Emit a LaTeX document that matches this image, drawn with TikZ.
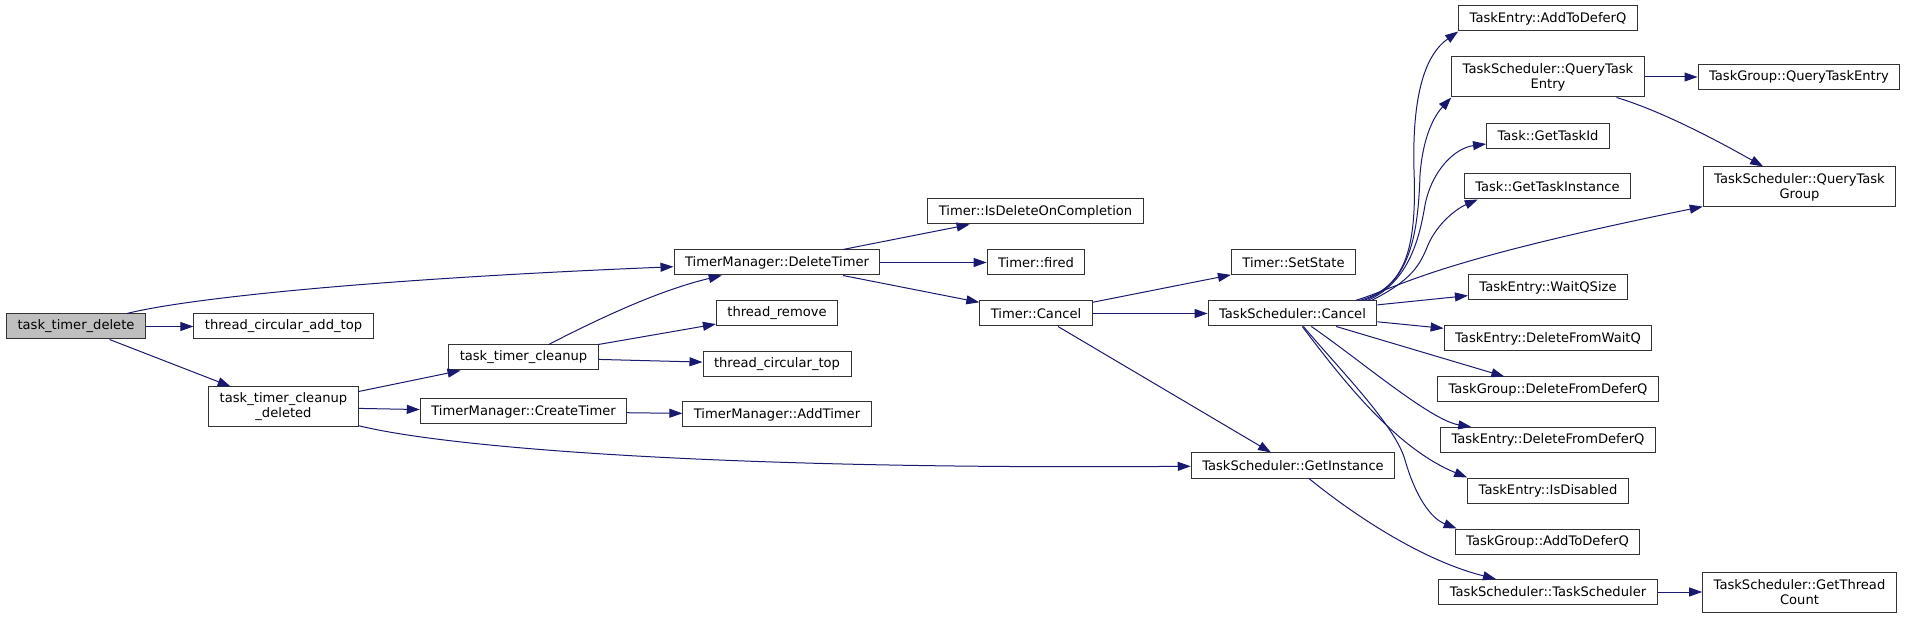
\documentclass[tikz,border=0pt]{standalone}
\usepackage{fontspec}
\setmainfont{DejaVu Sans}
\usetikzlibrary{arrows.meta}
\definecolor{edgeblue}{HTML}{191970}
\definecolor{boxline}{HTML}{333333}
\definecolor{rootfill}{HTML}{BFBFBF}

\begin{document}
\begin{tikzpicture}[x=1pt,y=-1pt,
    fn/.style={draw=boxline, line width=1pt, fill=white, inner xsep=11pt, inner ysep=0pt,
      minimum height=25pt, align=center, font=\fontsize{13.1}{15}\selectfont},
    root/.style={fn, fill=rootfill},
    two/.style={minimum height=40pt},
    call/.style={draw=edgeblue, line width=1pt, -{Triangle[length=13pt,width=9pt]}}]
    \useasboundingbox (0,0) rectangle (1915,617);

    % functions
    \node[root] (ttd) at (76,326.5) {task\_timer\_delete};
    \node[fn] (cat) at (283.5,326.5) {thread\_circular\_add\_top};
    \node[fn,two] (ttcd) at (283.5,407) {task\_timer\_cleanup\\\_deleted};
    \node[fn] (ttc) at (523.5,357.5) {task\_timer\_cleanup};
    \node[fn] (ctimer) at (523.5,411.5) {TimerManager::CreateTimer};
    \node[fn] (dtimer) at (777,262.5) {TimerManager::DeleteTimer};
    \node[fn] (tremove) at (777,313.5) {thread\_remove};
    \node[fn] (ctop) at (777,364) {thread\_circular\_top};
    \node[fn] (addtimer) at (777,414.5) {TimerManager::AddTimer};
    \node[fn] (idoc) at (1035.5,211.5) {Timer::IsDeleteOnCompletion};
    \node[fn] (fired) at (1036,262.5) {Timer::fired};
    \node[fn] (tcancel) at (1036,313.5) {Timer::Cancel};
    \node[fn] (setstate) at (1293.5,262.5) {Timer::SetState};
    \node[fn] (tscancel) at (1292.5,313.5) {TaskScheduler::Cancel};
    \node[fn] (getinst) at (1293,465.5) {TaskScheduler::GetInstance};
    \node[fn] (teaddq) at (1548,18.5) {TaskEntry::AddToDeferQ};
    \node[fn,two] (qte) at (1548,77) {TaskScheduler::QueryTask\\Entry};
    \node[fn] (tgqte) at (1799,77) {TaskGroup::QueryTaskEntry};
    \node[fn] (taskid) at (1548,136) {Task::GetTaskId};
    \node[fn] (taskinst) at (1547.5,186.5) {Task::GetTaskInstance};
    \node[fn,two] (qtg) at (1799.5,187) {TaskScheduler::QueryTask\\Group};
    \node[fn] (waitq) at (1548,287.5) {TaskEntry::WaitQSize};
    \node[fn] (delwq) at (1548,338.5) {TaskEntry::DeleteFromWaitQ};
    \node[fn] (tgdeldq) at (1548,389.5) {TaskGroup::DeleteFromDeferQ};
    \node[fn] (tedeldq) at (1548,440) {TaskEntry::DeleteFromDeferQ};
    \node[fn] (disabled) at (1548,490.5) {TaskEntry::IsDisabled};
    \node[fn] (tgaddq) at (1547.5,541.5) {TaskGroup::AddToDeferQ};
    \node[fn] (tsctor) at (1548,592) {TaskScheduler::TaskScheduler};
    \node[fn,two] (threadcnt) at (1799.5,592) {TaskScheduler::GetThread\\Count};

    % calls
    \draw[call] (ttd) .. controls (180,300) and (350,280) .. (dtimer);
    \draw[call] (ttd) -- (cat);
    \draw[call] (ttd) -- (ttcd);
    \draw[call] (ttcd) -- (ttc);
    \draw[call] (ttcd) -- (ctimer);
    \draw[call] (ttcd) .. controls (440,446) and (700,470) .. (getinst);
    \draw[call] (ttc) .. controls (600,318) and (660,290) .. (dtimer);
    \draw[call] (ttc) -- (tremove);
    \draw[call] (ttc) -- (ctop);
    \draw[call] (ctimer) -- (addtimer);
    \draw[call] (dtimer) -- (idoc);
    \draw[call] (dtimer) -- (fired);
    \draw[call] (dtimer) -- (tcancel);
    \draw[call] (tcancel) -- (setstate);
    \draw[call] (tcancel) -- (tscancel);
    \draw[call] (tcancel) -- (getinst);
    \draw[call] (getinst) .. controls (1350,512) and (1420,560) .. (tsctor);
    \draw[call] (tsctor) -- (threadcnt);
    \draw[call] (qte) -- (tgqte);
    \draw[call] (qte) .. controls (1665,112) and (1725,145) .. (qtg);
    \draw[call] ([xshift=-18pt]tscancel.north east) .. controls (1405,288) and (1417,250) .. (1414,170)
        .. controls (1412,95) and (1425,55) .. (teaddq.south west);
    \draw[call] ([xshift=-14pt]tscancel.north east) .. controls (1408,285) and (1418,240) .. (1420,175)
        .. controls (1423,135) and (1435,115) .. (qte.south west);
    \draw[call] ([xshift=-10pt]tscancel.north east) .. controls (1410,282) and (1420,235) .. (1425,205)
        .. controls (1432,170) and (1455,148) .. (taskid);
    \draw[call] ([xshift=-6pt]tscancel.north east) .. controls (1412,280) and (1420,265) .. (1428,245)
        .. controls (1438,222) and (1458,208) .. ([xshift=14pt]taskinst.south west);
    \draw[call] ([xshift=-22pt]tscancel.north east) .. controls (1405,285) and (1430,262) .. (qtg);
    \draw[call] (tscancel) -- (waitq);
    \draw[call] (tscancel) -- (delwq);
    \draw[call] (tscancel) -- (tgdeldq);
    \draw[call] (tscancel) .. controls (1360,360) and (1430,420) .. (tedeldq);
    \draw[call] (tscancel) .. controls (1350,390) and (1400,450) .. (disabled.north west);
    \draw[call] (tscancel) .. controls (1340,370) and (1395,425) .. (1405,460)
        .. controls (1415,495) and (1430,518) .. ([xshift=2pt]tgaddq.north west);
\end{tikzpicture}
\end{document}
